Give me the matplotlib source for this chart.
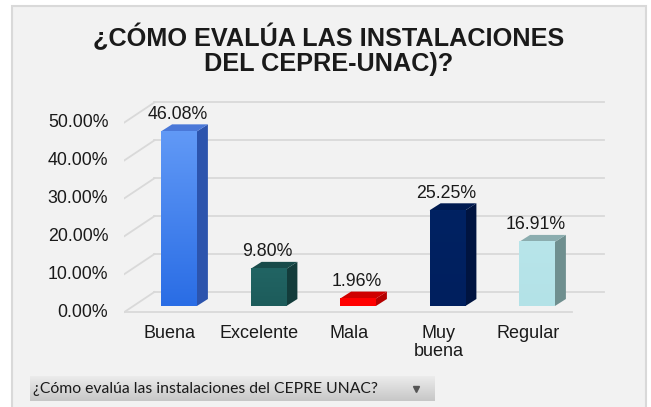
import matplotlib
matplotlib.use("Agg")
import matplotlib.pyplot as plt
import numpy as np
from matplotlib.patches import Rectangle, Polygon

# ---------------------------------------------------------------------------
# Data
# ---------------------------------------------------------------------------
TITLE = "¿CÓMO EVALÚA LAS INSTALACIONES\nDEL CEPRE-UNAC)?"
FILTER_LABEL = "¿Cómo evalúa las instalaciones del CEPRE UNAC?"
categories = ["Buena", "Excelente", "Mala", "Muy\nbuena", "Regular"]
values = [46.08, 9.80, 1.96, 25.25, 16.91]
ticks = [0, 10, 20, 30, 40, 50]
tick_labels = ["0.00%", "10.00%", "20.00%", "30.00%", "40.00%", "50.00%"]

# face colours: (front top, front bottom, side, top)
bar_colors = [
    ("#6199f6", "#2a6de5", "#2c54ad", "#4a78d8"),
    ("#216463", "#1d5c5b", "#133c3b", "#184b4a"),
    ("#ff0000", "#ff0000", "#b50000", "#cf0000"),
    ("#002262", "#001f5e", "#001440", "#001a50"),
    ("#b8e5ea", "#b3e2e7", "#6f8f8f", "#8badaf"),
]

BG = "#f2f2f2"
GRID = "#d9d9d9"
TEXT = "#1a1a1a"

# pseudo-3d offsets in screen pixels (x right, y down), relative to bar plane
FRONT = (-9, 6)
BACK = (21, -14)
DEPTH = (11, -7)
BAR_W = 0.40
X_LEFT, X_RIGHT = -0.51, 4.49

W, H = 651, 407
fig = plt.figure(figsize=(W / 100, H / 100), dpi=100)
fig.patch.set_facecolor("white")
fig.patches.append(Rectangle((12 / W, -0.05), 634 / W, 1.05 - 6 / H,
                             transform=fig.transFigure, facecolor=BG,
                             edgecolor=GRID, linewidth=1.5, zorder=-5))

fig.text(329 / W, 1 - 50 / H, TITLE, ha="center", va="center",
         fontsize=18.2, fontweight="bold", family="Liberation Sans",
         color=TEXT, linespacing=1.02)

# plot axes: pixel box 124..612 (x), 95..330 (y)
ax_l, ax_r, ax_t, ax_b = 124, 612, 95, 330
ax = fig.add_axes([ax_l / W, 1 - ax_b / H, (ax_r - ax_l) / W, (ax_b - ax_t) / H])
ax.set_axis_off()
XLIM = (-0.6145, 4.838)
YLIM = (-6.33, 55.67)


def off(p):
    """screen pixel offset -> data offset"""
    return (p[0] * (XLIM[1] - XLIM[0]) / (ax_r - ax_l),
            -p[1] * (YLIM[1] - YLIM[0]) / (ax_b - ax_t))


fo, bo, do = off(FRONT), off(BACK), off(DEPTH)

# walls: back gridlines, left diagonals, floor front edge
for v in ticks:
    ax.plot([X_LEFT + bo[0], X_RIGHT + bo[0] + 0.02], [v + bo[1]] * 2,
            color=GRID, lw=1.3, zorder=1)
    ax.plot([X_LEFT + fo[0], X_LEFT + bo[0]], [v + fo[1], v + bo[1]],
            color=GRID, lw=1.3, zorder=1)
ax.plot([X_LEFT + fo[0], X_RIGHT + fo[0]], [fo[1]] * 2, color=GRID, lw=1.3, zorder=1)

for v, lab in zip(ticks, tick_labels):
    ax.annotate(lab, (X_LEFT + fo[0], v + fo[1]), xytext=(-16, 0),
                textcoords="offset pixels", ha="right", va="center",
                fontsize=12.8, family="Liberation Sans", color=TEXT)

for i, (v, cols) in enumerate(zip(values, bar_colors)):
    x0, x1 = i - BAR_W / 2, i + BAR_W / 2
    grad = np.linspace(0, 1, 64).reshape(-1, 1)
    c_top = np.array(matplotlib.colors.to_rgb(cols[0]))
    c_bot = np.array(matplotlib.colors.to_rgb(cols[1]))
    img = (c_top * (1 - grad) + c_bot * grad).reshape(64, 1, 3)
    ax.imshow(img, extent=(x0, x1, 0, v), aspect="auto", zorder=3,
              interpolation="bilinear")
    side = [(x1, 0), (x1 + do[0], do[1]), (x1 + do[0], v + do[1]), (x1, v)]
    top = [(x0, v), (x1, v), (x1 + do[0], v + do[1]), (x0 + do[0], v + do[1])]
    ax.add_patch(Polygon(side, closed=True, facecolor=cols[2], edgecolor="none", zorder=2))
    ax.add_patch(Polygon(top, closed=True, facecolor=cols[3], edgecolor="none", zorder=2))
    ax.annotate(f"{v:.2f}%", (i, v), xytext=(-1, 17), textcoords="offset pixels",
                ha="center", va="center", fontsize=12.8,
                family="Liberation Sans", color=TEXT)
    ax.annotate(categories[i], (i, 0), xytext=(-9, -19), textcoords="offset pixels",
                ha="center", va="top", fontsize=13, family="Liberation Sans",
                color=TEXT, linespacing=1.1)

ax.set_xlim(*XLIM)
ax.set_ylim(*YLIM)

# filter dropdown at the bottom
bx = fig.add_axes([30 / W, 1 - 401 / H, 405 / W, 25 / H])
grad = np.linspace(0, 1, 32).reshape(-1, 1)
g = (0.93 * (1 - grad) + 0.78 * grad)
bx.imshow(np.dstack([g, g, g]), extent=(0, 1, 0, 1), aspect="auto",
          interpolation="bilinear")
bx.set_xlim(0, 1)
bx.set_ylim(0, 1)
bx.set_axis_off()
bx.text(0.008, 0.48, FILTER_LABEL, ha="left", va="center", fontsize=11.3,
        family="Lato", color=TEXT)
bx.plot([0.953], [0.5], marker="v", markersize=5, color="#555555")

fig.savefig("out.png", dpi=100, facecolor="white")
